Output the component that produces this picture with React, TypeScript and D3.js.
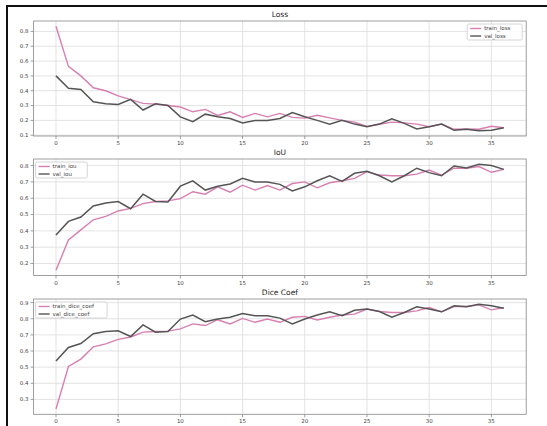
import React from 'react';
import { scaleLinear, line, extent, range } from 'd3';

// epochs 0..36
const epochs = range(0, 37);

const trainLoss = [0.835, 0.564, 0.5, 0.42, 0.4, 0.365, 0.34, 0.315, 0.31, 0.3, 0.29, 0.258, 0.274, 0.233, 0.258, 0.22, 0.247, 0.224, 0.247,
  0.22, 0.215, 0.235, 0.217, 0.2, 0.188, 0.16, 0.174, 0.188, 0.183, 0.175, 0.157, 0.175, 0.14, 0.142, 0.14, 0.16, 0.15];
const valLoss = [0.5, 0.417, 0.408, 0.326, 0.312, 0.308, 0.342, 0.27, 0.312, 0.3, 0.224, 0.192, 0.242, 0.224, 0.213, 0.183, 0.2, 0.2, 0.213,
  0.253, 0.225, 0.2, 0.175, 0.2, 0.175, 0.157, 0.175, 0.21, 0.18, 0.142, 0.157, 0.175, 0.133, 0.14, 0.13, 0.133, 0.15];

const trainIou = [0.159, 0.344, 0.406, 0.468, 0.489, 0.522, 0.538, 0.567, 0.58, 0.584, 0.598, 0.64, 0.625, 0.67, 0.637, 0.68, 0.65, 0.678, 0.65,
  0.69, 0.7, 0.664, 0.695, 0.707, 0.722, 0.763, 0.742, 0.738, 0.738, 0.748, 0.773, 0.742, 0.784, 0.784, 0.794, 0.759, 0.777];
const valIou = [0.375, 0.458, 0.485, 0.553, 0.571, 0.58, 0.536, 0.625, 0.58, 0.577, 0.674, 0.707, 0.65, 0.674, 0.687, 0.722, 0.7, 0.7, 0.685,
  0.645, 0.67, 0.707, 0.738, 0.703, 0.753, 0.765, 0.738, 0.7, 0.738, 0.784, 0.757, 0.738, 0.798, 0.786, 0.808, 0.8, 0.777];

const trainDice = [0.24, 0.504, 0.55, 0.626, 0.644, 0.672, 0.687, 0.717, 0.721, 0.723, 0.737, 0.768, 0.758, 0.794, 0.768, 0.802, 0.778, 0.798, 0.778,
  0.809, 0.815, 0.792, 0.809, 0.823, 0.829, 0.86, 0.845, 0.839, 0.839, 0.849, 0.87, 0.843, 0.876, 0.876, 0.886, 0.855, 0.87];
const valDice = [0.538, 0.622, 0.646, 0.707, 0.721, 0.725, 0.69, 0.762, 0.717, 0.721, 0.798, 0.823, 0.782, 0.798, 0.809, 0.833, 0.819, 0.819, 0.804,
  0.768, 0.798, 0.823, 0.843, 0.819, 0.853, 0.86, 0.845, 0.809, 0.839, 0.874, 0.86, 0.843, 0.88, 0.874, 0.89, 0.88, 0.865];

const xTicks = [0, 5, 10, 15, 20, 25, 30, 35];

const PINK = '#d77fb2';
const DARK = '#555555';
const GRID = '#dcdcdc';
const TXT = '#444';

const x = scaleLinear().domain([-1.8, 37.8]).range([33.6, 526.2]);

type Panel = {
  title: string;
  top: number;
  bottom: number;
  train: number[];
  val: number[];
  names: [string, string];
  legend: 'right' | 'left';
};

const panels: Panel[] = [
  { title: 'Loss', top: 21, bottom: 136, train: trainLoss, val: valLoss, names: ['train_loss', 'val_loss'], legend: 'right' },
  { title: 'IoU', top: 159, bottom: 275.5, train: trainIou, val: valIou, names: ['train_iou', 'val_iou'], legend: 'left' },
  { title: 'Dice Coef', top: 299, bottom: 414.3, train: trainDice, val: valDice, names: ['train_dice_coef', 'val_dice_coef'], legend: 'left' },
];

function Subplot({ p }: { p: Panel }) {
  const [lo, hi] = extent([...p.train, ...p.val]) as [number, number];
  const pad = (hi - lo) * 0.05;
  const y = scaleLinear().domain([lo - pad, hi + pad]).range([p.bottom, p.top]);
  const yTicks = range(Math.ceil((lo - pad) * 10 - 1e-6), Math.floor((hi + pad) * 10 + 1e-6) + 1).map(v => v / 10);

  const mkLine = line<number>()
    .x((_, i) => x(epochs[i]))
    .y(v => y(v));

  const [x0, x1] = x.range();

  // legend placement
  const longest = Math.max(...p.names.map(n => n.length));
  const lw = 22 + longest * 3.3;
  const lx = p.legend === 'right' ? x1 - 4 - lw : x0 + 2;
  const ly = p.top + 3;

  return (
    <g>
      <text x={(x0 + x1) / 2} y={p.top - 4} textAnchor="middle" fontSize={7.5} fill="#222">{p.title}</text>
      {xTicks.map(t => (
        <line key={'gx' + t} x1={x(t)} x2={x(t)} y1={p.top} y2={p.bottom} stroke={GRID} strokeWidth={0.8} />
      ))}
      {yTicks.map(t => (
        <line key={'gy' + t} x1={x0} x2={x1} y1={y(t)} y2={y(t)} stroke={GRID} strokeWidth={0.8} />
      ))}
      <path d={mkLine(p.train) ?? ''} fill="none" stroke={PINK} strokeWidth={1.4} />
      <path d={mkLine(p.val) ?? ''} fill="none" stroke={DARK} strokeWidth={1.5} />
      <rect x={x0} y={p.top} width={x1 - x0} height={p.bottom - p.top} fill="none" stroke="#888" strokeWidth={0.8} />
      {xTicks.map(t => (
        <g key={'xt' + t}>
          <line x1={x(t)} x2={x(t)} y1={p.bottom} y2={p.bottom + 3} stroke="#888" strokeWidth={0.8} />
          <text x={x(t)} y={p.bottom + 9} textAnchor="middle" fontSize={5.5} fill={TXT}>{t}</text>
        </g>
      ))}
      {yTicks.map(t => (
        <g key={'yt' + t}>
          <line x1={x0 - 3} x2={x0} y1={y(t)} y2={y(t)} stroke="#888" strokeWidth={0.8} />
          <text x={x0 - 5} y={y(t)} dy="0.35em" textAnchor="end" fontSize={5.5} fill={TXT}>{t.toFixed(1)}</text>
        </g>
      ))}
      <rect x={lx} y={ly} width={lw} height={16} rx={1.5} fill="white" fillOpacity={0.85} stroke="#ccc" strokeWidth={0.8} />
      {p.names.map((n, i) => (
        <g key={n}>
          <line x1={lx + 3} x2={lx + 14} y1={ly + 4.5 + i * 7.5} y2={ly + 4.5 + i * 7.5} stroke={i === 0 ? PINK : DARK} strokeWidth={1.4} />
          <text x={lx + 17} y={ly + 4.5 + i * 7.5} dy="0.35em" fontSize={5.5} fill={TXT}>{n}</text>
        </g>
      ))}
    </g>
  );
}

export default function App() {
  return (
    <div style={{ position: 'absolute', left: 0, top: 0 }}>
      <svg width={547} height={426} style={{ display: 'block', background: 'white', fontFamily: 'DejaVu Sans, sans-serif' }}>
        <rect x={0} y={0} width={547} height={426} fill="white" />
        {/* photo frame edges */}
        <line x1={6} x2={547} y1={6} y2={6} stroke="#111" strokeWidth={2} />
        <line x1={7} x2={7} y1={5} y2={426} stroke="#111" strokeWidth={2} />
        {panels.map(p => <Subplot key={p.title} p={p} />)}
      </svg>
    </div>
  );
}
